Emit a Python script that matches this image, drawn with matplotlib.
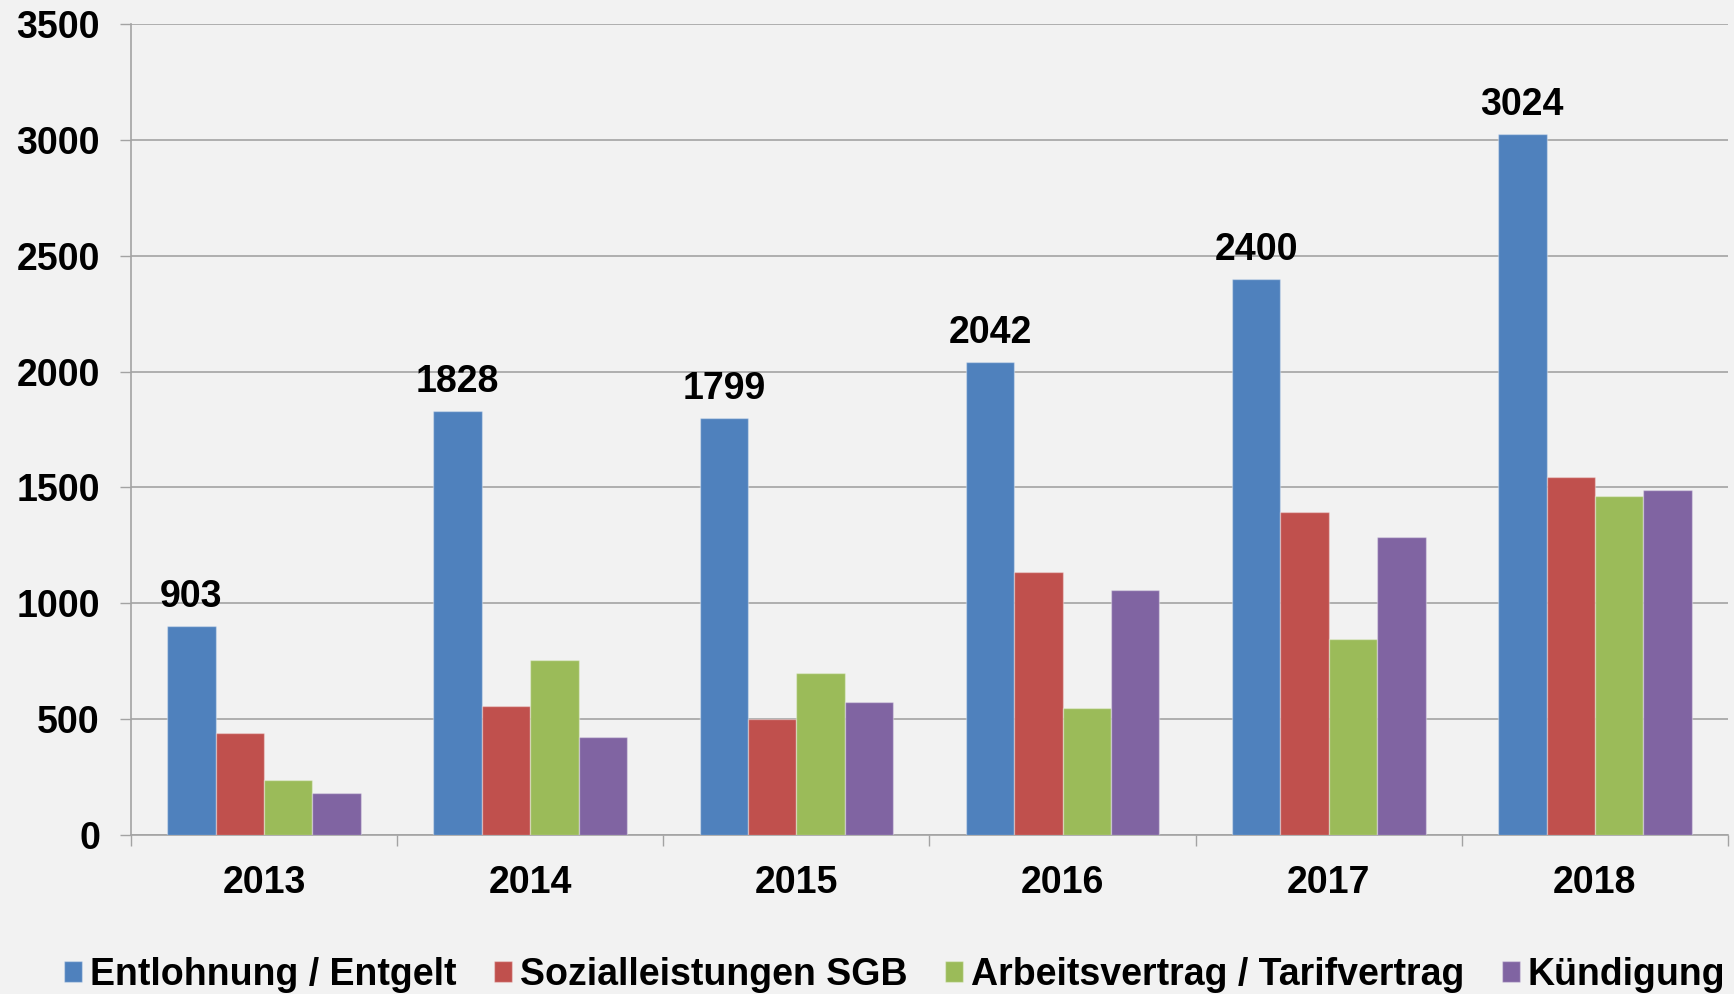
import matplotlib
matplotlib.use("Agg")
import matplotlib.pyplot as plt
import numpy as np
from matplotlib.ticker import FixedLocator

years = ["2013", "2014", "2015", "2016", "2017", "2018"]
series_names = ["Entlohnung / Entgelt", "Sozialleistungen SGB",
                "Arbeitsvertrag / Tarifvertrag", "Kündigung"]
entlohnung = [903, 1828, 1799, 2042, 2400, 3024]
sozialleistungen = [440, 556, 500, 1137, 1396, 1545]
arbeitsvertrag = [239, 755, 700, 546, 847, 1463]
kuendigung = [180, 423, 573, 1057, 1288, 1488]
y_ticks = [0, 500, 1000, 1500, 2000, 2500, 3000, 3500]

colors = ["#4F81BD", "#C0504D", "#9BBB59", "#8064A2"]
bg = "#F2F2F2"
grid_c = "#A3A3A3"

plt.rcParams["font.family"] = ["Liberation Sans", "DejaVu Sans"]
plt.rcParams["font.weight"] = "bold"
FS = 27

W, H = 1734, 994
fig = plt.figure(figsize=(W / 100, H / 100), dpi=100, facecolor=bg)
ax = fig.add_axes([131 / W, 1 - 835 / H, (1728 - 131) / W, (835 - 24) / H])
ax.set_facecolor(bg)

x = np.arange(len(years))
bw = 1 / 5.5
all_series = [entlohnung, sozialleistungen, arbeitsvertrag, kuendigung]
containers = []
for i, (vals, c, name) in enumerate(zip(all_series, colors, series_names)):
    cont = ax.bar(x + (i - 1.5) * bw, vals, width=bw, color=c,
                  edgecolor=(1, 1, 1, 0.35), linewidth=1.0, label=name, zorder=3)
    containers.append(cont)

ax.bar_label(containers[0], labels=[str(v) for v in entlohnung], padding=8.0,
             fontsize=FS, fontweight="bold", color="black", zorder=5)

ax.set_xlim(-0.5, 5.5)
ax.set_ylim(0, 3500)
ax.set_yticks(y_ticks)
ax.set_yticklabels([str(t) for t in y_ticks])
ax.set_xticks(x)
ax.set_xticklabels(years)
ax.xaxis.set_minor_locator(FixedLocator(np.arange(-0.5, 6.0, 1.0)))

ax.tick_params(axis="x", which="major", length=0, pad=21.5, labelsize=FS)
ax.tick_params(axis="x", which="minor", length=7.7, width=1.0, color=grid_c, direction="out")
ax.tick_params(axis="y", which="major", length=7.9, width=1.0, color=grid_c,
               direction="out", pad=14.5, labelsize=FS)
for lab in ax.get_xticklabels() + ax.get_yticklabels():
    lab.set_fontweight("bold")

ax.yaxis.grid(True, color=grid_c, linewidth=1.2, zorder=0)
ax.set_axisbelow(True)
for s in ["top", "right"]:
    ax.spines[s].set_visible(False)
for s in ["left", "bottom"]:
    ax.spines[s].set_color(grid_c)
    ax.spines[s].set_linewidth(1.2)

leg = fig.legend(handles=containers, labels=series_names, loc="center",
                 bbox_to_anchor=(895 / W, 1 - 975 / H), ncol=4, frameon=False,
                 prop={"size": FS, "weight": "bold"},
                 handlelength=0.47, handleheight=0.47, handletextpad=0.22,
                 columnspacing=1.0, borderaxespad=0, borderpad=0)

fig.savefig("out.png", dpi=100, facecolor=bg)
